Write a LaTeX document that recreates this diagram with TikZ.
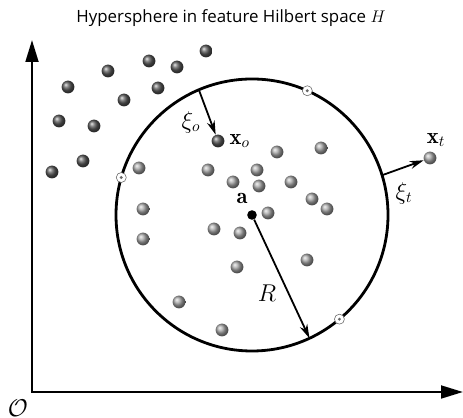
\documentclass[tikz,border=0pt]{standalone}
\usepackage{amsmath}
\usepackage{fontspec}
\newfontfamily\titlefont{Open Sans}
\usetikzlibrary{arrows.meta}

\begin{document}
\begin{tikzpicture}[x=0.25mm,y=0.25mm,
  outball/.style={circle,inner sep=0pt,minimum size=3.2mm,shading=ball,ball color=black!65},
  inball/.style={circle,inner sep=0pt,minimum size=3.2mm,shading=ball,ball color=black!35},
  svec/.style={circle,draw=black!60,fill=white,line width=0.4pt,inner sep=0pt,minimum size=2.5mm,
    path picture={\fill[black!60] (path picture bounding box.center) circle (0.4mm);}},
  hsphere/.style={circle,draw,line width=0.7mm,inner sep=0pt,outer sep=0pt,minimum size=68mm},
  axis/.style={line width=0.6mm,{Triangle[length=5.5mm,width=3.2mm]}-{Triangle[length=5.5mm,width=3.2mm]}},
  gap/.style={line width=0.45mm,-{Stealth[length=3.5mm,width=2mm]}},
  lbl/.style={font=\fontsize{16}{18}\selectfont}]
\useasboundingbox (-32,-26) rectangle (431,392);
\node[font=\titlefont\fontsize{12}{14}\selectfont] (title) at (199,374) {Hypersphere in feature Hilbert space $H$};
% axes
\coordinate (O) at (0,0); \coordinate (ytop) at (0,352); \coordinate (xend) at (431,0);
\draw[axis] (ytop) -- (O) -- (xend);
\node[lbl] (olbl) at (-14,-16) {$\mathcal{O}$};
% hypersphere
\node[hsphere] (sph) at (220,177) {};
\node[circle,fill,inner sep=0pt,minimum size=2.4mm] (a) at (220,177) {};
\node[lbl] (albl) at (210,194) {$\mathbf{a}$};
% samples outside
\foreach \x/\y in {174/341,117/331,145/325,76/321,36/305,126/304,92/292,27/271,62/266,51/231,20/220}
  \node[outball] at (\x,\y) {};
% samples inside
\foreach \x/\y in {107/224,176/222,245/240,289/244,225/222,201/210,227/206,259/210,280/193,295/183,
  236/179,111/183,111/153,182/163,208/159,205/125,275/132,147/90,190/62}
  \node[inball] at (\x,\y) {};
% support vectors
\foreach \ang [count=\i] in {164,66,-50}
  \node[svec] (sv\i) at (sph.\ang) {};
% outliers
\node[outball] (xo) at (186,251) {};
\node[lbl,anchor=west] (xolbl) at (xo.east) {$\mathbf{x}_o$};
\node[inball] (xt) at (398,234) {};
\node[lbl] (xtlbl) at (404,252) {$\mathbf{x}_t$};
\draw[gap] (sph.113) -- (xo);
\node[lbl] (xiolbl) at (159,270) {$\xi_o$};
\draw[gap] (sph.17) -- (xt);
\node[lbl] (xitlbl) at (372,199) {$\xi_t$};
% radius
\draw[gap] (a) -- (sph.-65);
\node[lbl] (rlbl) at (235,99) {$R$};
\end{tikzpicture}
\end{document}
